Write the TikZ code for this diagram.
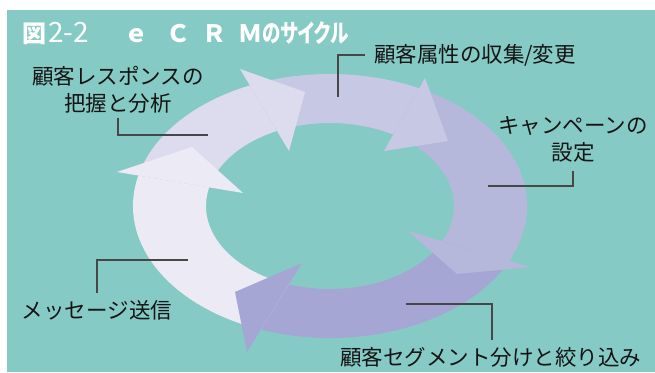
\documentclass[tikz,border=0pt]{standalone}
\usepackage{graphicx}
\usepackage{fontspec}
\setmainfont{Noto Sans CJK JP}
\newfontfamily\cjkp[RawFeature=+palt]{Noto Sans CJK JP}
\definecolor{bgteal}{HTML}{86CAC6}
\definecolor{cbA}{HTML}{ECEAF5}
\definecolor{cbB}{HTML}{DDDCEE}
\definecolor{cbC}{HTML}{C7C9E4}
\definecolor{cbD}{HTML}{B6B8DB}
\definecolor{cbE}{HTML}{A5A6D3}
\newcommand{\ringseg}[5]{\fill[#1] ([shift={(330,166)}]#2:197pt and 132pt) arc[start angle=#2, end angle=#3, x radius=197pt, y radius=132pt] -- ([shift={(330,166)}]#4:124pt and 83pt) arc[start angle=#4, end angle=#5, x radius=124pt, y radius=83pt] -- cycle;}
\begin{document}
\begin{tikzpicture}[x=1pt,y=1pt,
  lab/.style={inner sep=0pt, font=\fontsize{21.5}{27.5}\selectfont, text=black!92, align=center},
  leader/.style={draw=black!72, line width=1.3pt}]
\useasboundingbox (0,0) rectangle (655,372);
\fill[bgteal] (7,0) rectangle (655,362);
% ring bodies
\ringseg{cbB}{166.7}{114.0}{115.3}{167.0}
\ringseg{cbC}{114.0}{63.07}{59.35}{115.3}
\ringseg{cbD}{63.07}{-24.6}{-25.07}{59.35}
\ringseg{cbE}{-24.6}{-110.6}{-109.4}{-25.07}
\ringseg{cbA}{249.4}{166.7}{167.0}{250.6}
% arrow heads
\fill[cbA] (117,200) -- (192,225) -- (243,179) -- cycle;
\fill[cbB] (240,303) -- (305,280) -- (289,221) -- cycle;
\fill[cbC] (425,294) -- (448,231) -- (384,221) -- cycle;
\fill[cbD] (408,141) -- (457,98) -- (530,105) -- cycle;
\fill[cbE] (247,20) -- (235,80) -- (302,109) -- cycle;
% title
\node[anchor=base west, inner sep=0pt, text=white, font=\fontsize{24}{24}\selectfont] (title) at (22,329)
  {\makebox[26pt][l]{\bfseries 図}\makebox[76pt][l]{\fontsize{28}{28}\selectfont 2-2}{\bfseries ｅ\hspace{18pt}Ｃ\hspace{12.5pt}Ｒ\hspace{11.5pt}Ｍ}\scalebox{0.74}[1]{\cjkp\bfseries\fontsize{25}{25}\selectfont のサイクル}};
% labels
\node[lab] (lab1) at (118,282) {顧客レスポンスの\\把握と分析};
\node[lab] (lab2) at (475,317) {顧客属性の収集/変更};
\node[lab] (lab3) at (573,232.5) {キャンペーンの\\設定};
\node[lab] (lab4) at (97,62) {メッセージ送信};
\node[lab] (lab5) at (490.5,15) {顧客セグメント分けと絞り込み};
% leader lines
\coordinate (p1) at (208,237);
\coordinate (p2) at (338,275);
\coordinate (p3) at (488,186);
\coordinate (p4) at (188,112);
\coordinate (p5) at (406,68);
\draw[leader] ([yshift=-4pt]lab1.south) |- (p1);
\draw[leader] ([xshift=-9pt]lab2.west) -| (p2);
\draw[leader] ([yshift=-8pt]lab3.south) |- (p3);
\draw[leader] ([yshift=7pt]lab4.north) |- (p4);
\draw[leader] ([xshift=1.5pt,yshift=7pt]lab5.north) |- (p5);
\end{tikzpicture}
\end{document}
